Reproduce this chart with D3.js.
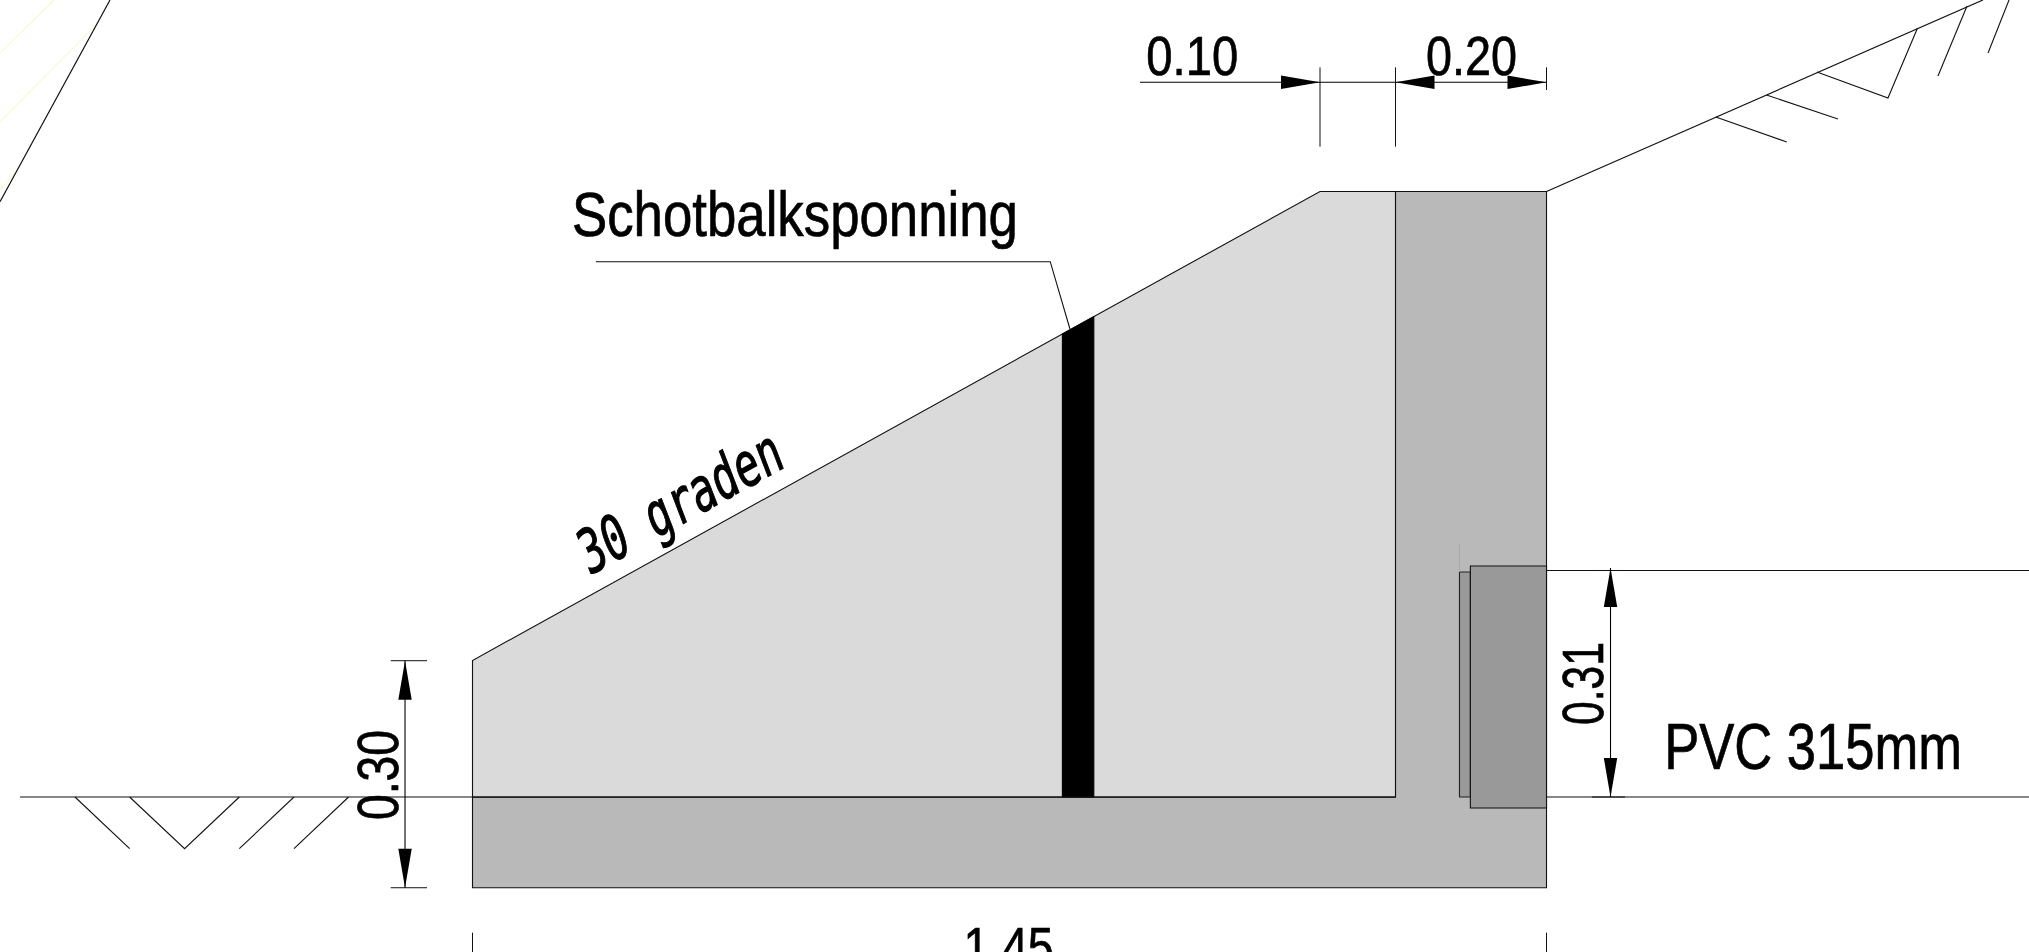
<!DOCTYPE html>
<html>
<head>
<meta charset="utf-8">
<script src="https://cdn.jsdelivr.net/npm/d3@7"></script>
<style>
html,body{margin:0;padding:0;background:#fff;overflow:hidden}
svg{display:block}
text{font-family:"Liberation Sans Narrow","Liberation Sans",sans-serif;fill:#000;stroke:#000;stroke-width:.7}
</style>
</head>
<body>
<svg id="drawing"></svg>
<script>
// all drawing values in metres, origin = ground level at left edge of the wall
var lightBlock=[[0,0],[0,.1843],[1.1442,.8175],[1.2461,.8175],[1.2461,0]];
var concreteL=[[1.2461,.8175],[1.45,.8175],[1.45,-.1225],[0,-.1225],[0,0],[1.2461,0]];
var sponning=[[.7964,0],[.7964,.625],[.8388,.6485],[.8388,0]];
var pipeOuter=[[1.3472,.3119],[1.45,.3119],[1.45,-.0149],[1.3472,-.0149]];
var pipeInner=[[1.3325,.3038],[1.3472,.3038],[1.3472,0],[1.3325,0]];

var groundLines=[
	[[-.6109,0],[1.2461,0]],
	[[1.45,0],[2.1014,0]],
	[[1.45,.3058],[2.1014,.3058]],
	[[1.45,.8175],[2.0392,1.076]],
	[[-.4894,1.076],[-.6379,.8037]]
];
var hatchLeft=[
	[[-.5367,0],[-.4629,-.0698]],
	[[-.4629,0],[-.3887,-.0698],[-.3148,0]],
	[[-.3148,-.0698],[-.241,0]],
	[[-.241,-.0698],[-.1673,0]]
];
var hatchRight=[
	[[1.6785,.918],[1.7744,.8843]],
	[[1.747,.9478],[1.8435,.9153]],
	[[1.8151,.9788],[1.911,.9437],[1.9509,1.0382]],
	[[1.9785,.9734],[2.0177,1.0679]],
	[[2.0461,1.0044],[2.0744,1.076]]
];
var yellowLines=[
	[[-.565,1.076],[-.6379,1.0044]],
	[[-.5056,1.0454],[-.6379,.9117]],
	[[-.6163,.8438],[-.6379,.8195]]
];
var leader=[[.1665,.7227],[.78,.7227],[.8066,.6318]];
var faintLine=[[1.3325,.3416],[1.3325,.3038]];

var extLines=[
	[[1.1442,.9851],[1.1442,.878]],
	[[1.2461,.9851],[1.2461,.878]],
	[[1.45,.9851],[1.45,.9545]],
	[[-.1104,.184],[-.0614,.184]],
	[[-.1104,-.1225],[-.0614,-.1225]],
	[[1.5114,0],[1.5559,0]],
	[[1.5114,.3058],[1.5559,.3058]],
	[[0,-.1832],[0,-.2093]],
	[[1.45,-.1832],[1.45,-.2093]]
];
var dimLines=[
	[[.9012,.9649],[1.45,.9649]],
	[[-.0911,.184],[-.0911,-.1225]],
	[[1.5364,.3092],[1.5364,0]]
];
// arrow tips with the direction they point to
var arrowTips=[
	[1.1442,.9649,1,0],
	[1.2461,.9649,-1,0],
	[1.45,.9649,1,0],
	[-.0911,.184,0,1],
	[-.0911,-.1225,0,-1],
	[1.5364,.3092,0,1],
	[1.5364,0,0,-1]
];

var labelTexts=["0.10","0.20","0.30","0.31","1.45","Schotbalksponning","PVC 315mm"];
var labelAnchors=[[.9097,.9747],[1.2872,.9747],[-.1006,-.0311],[1.5269,.0972],[.663,-.2282],[.1343,.7574],[1.6088,.0378]];
var labelSizes=[56,56,57,57,56,63,64];
var labelLengths=[92,91,90,83,90,446,298];
var labelRotations=[0,0,-90,-90,0,0,0];

var width=2029, height=952;
var pxPerM=740.7;

var x=d3.scaleLinear().domain([0,1.45]).range([472.5,472.5+1.45*pxPerM]);
var y=d3.scaleLinear().domain([0,1]).range([797,797-pxPerM]);

var svg=d3.select('#drawing').attr('width',width).attr('height',height);
var line=d3.line().x(function(d){return x(d[0])}).y(function(d){return y(d[1])});

function polygon(points, fill, stroke)
{
	svg.append('path')
	.attr('d',line(points)+'Z')
	.attr('fill',fill)
	.attr('stroke',stroke)
	.attr('stroke-width',1.1);
}

function lines(list, color, w)
{
	svg.selectAll(null)
	.data(list)
	.enter()
	.append('path')
	.attr('d',line)
	.attr('fill','none')
	.attr('stroke',color)
	.attr('stroke-width',w);
}

polygon(concreteL,'#b9b9b9','#111');
polygon(lightBlock,'#dadada','#111');
polygon(sponning,'#000','#000');
polygon(pipeInner,'#999','#222');
polygon(pipeOuter,'#999','#111');

lines(yellowLines,'#f6f6b4',1);
lines([faintLine],'#aaa',1);
lines(groundLines,'#111',1.2);
lines(hatchLeft,'#111',1.1);
lines(hatchRight,'#111',1.1);
lines([leader],'#111',1.1);
lines(extLines,'#111',1);
lines(dimLines,'#000',1.1);

// arrow heads, fixed size in pixels
var arrowLen=39, arrowHalf=6.7;
svg.selectAll(null)
.data(arrowTips)
.enter()
.append('polygon')
.attr('points',function(d){
	var tx=x(d[0]), ty=y(d[1]);
	var dx=d[2], dy=-d[3];
	var bx=tx-dx*arrowLen, by=ty-dy*arrowLen;
	return tx+','+ty+' '+(bx-dy*arrowHalf)+','+(by+dx*arrowHalf)+' '+(bx+dy*arrowHalf)+','+(by-dx*arrowHalf);
})
.attr('fill','#000');

svg.selectAll('text.label')
.data(labelTexts)
.enter()
.append('text')
.attr('class','label')
.attr('transform',function(d,i){
	return 'translate('+x(labelAnchors[i][0])+','+y(labelAnchors[i][1])+') rotate('+labelRotations[i]+')';
})
.attr('font-size',function(d,i){return labelSizes[i]})
.attr('textLength',function(d,i){return labelLengths[i]})
.attr('lengthAdjust','spacingAndGlyphs')
.text(function(d){return d});

// the slope note is in a cad style font, leaning along the slope
svg.append('text')
.attr('transform','translate('+x(.157)+','+y(.2985)+') rotate(-29) skewX(-8)')
.attr('font-size',60)
.attr('textLength',226)
.attr('lengthAdjust','spacingAndGlyphs')
.style('font-family','"DejaVu Sans Mono"')
.style('stroke-width',1.2)
.text('30 graden');
</script>
</body>
</html>
